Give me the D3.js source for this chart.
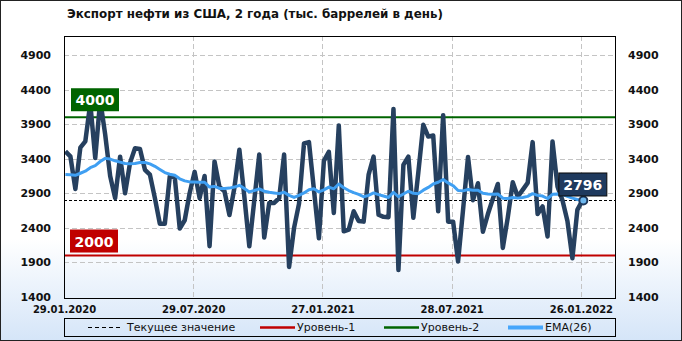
<!DOCTYPE html>
<html>
<head>
<meta charset="utf-8">
<script src="https://cdn.jsdelivr.net/npm/d3@7"></script>
<style>
  body { margin: 0; background: #fff; }
  svg { display: block; font-family: "DejaVu Sans", Verdana, sans-serif; }
</style>
</head>
<body>
<div id="chart"></div>
<script>
// weekly values, first week ending 31.01.2020
const firstWeek = "31.01.2020";
const exportValues = [
  3506, 3434, 2962, 3560, 3650, 4200, 3410, 4250, 3750, 3150,
  2830, 3430, 2900, 3340, 3550, 3540, 3240, 3170, 2830, 2460,
  2460, 3145, 3130, 2390, 2510, 2905, 3210, 2830, 3150, 2135,
  3360, 2990, 2930, 2585, 2980, 3530, 2850, 2135, 2800, 3460,
  2260, 2760, 2760, 2830, 3460, 1835, 2400, 2750, 3620, 3640,
  2950, 2250, 3370, 3500, 2615, 3880, 2350, 2375, 2640, 2500,
  2490, 3170, 3430, 2590, 2560, 2555, 4120, 1790, 3310, 3430,
  2545, 3200, 3890, 3720, 3735, 2640, 4030, 2490, 2490, 1915,
  2660, 3425, 2800, 3045, 2345, 2600, 2820, 3035, 2110, 2550,
  3060, 2850, 2950, 3050, 3640, 2600, 2710, 2275, 3650, 3000,
  2800, 2500, 1960, 2660, 2796
];
const emaValues = [
  3170, 3168, 3160, 3190, 3220, 3270, 3300, 3360, 3405, 3395,
  3370, 3350, 3330, 3328, 3330, 3345, 3345, 3325, 3290, 3245,
  3200, 3175, 3160, 3110, 3080, 3065, 3065, 3060, 3060, 2990,
  3000, 2970, 2970, 2975, 2990, 3015, 2970, 2920, 2940, 2965,
  2930, 2915, 2905, 2895, 2915, 2870, 2840, 2870, 2905, 2950,
  2965, 2920, 2950, 2990, 2965, 3035, 2980, 2940, 2910, 2885,
  2850, 2870, 2905, 2880, 2860, 2840, 2915, 2850, 2890, 2930,
  2900, 2895, 2945, 2985, 3035, 3060, 3100, 3050, 3010, 2940,
  2935, 2955, 2945, 2945, 2900, 2890, 2885, 2890, 2830, 2825,
  2840, 2830, 2840, 2855, 2895, 2870, 2860, 2825, 2885, 2890,
  2880, 2855, 2830, 2810, 2796
];
const tickLabels = ["29.01.2020", "29.07.2020", "27.01.2021", "28.07.2021", "26.01.2022"];
const yTicks = [1400, 1900, 2400, 2900, 3400, 3900, 4400, 4900];
const levelValues = [2000, 4000];
const levelColors = ["#c00000", "#006400"];
const currentValue = 2796;
const legendLabels = ["Текущее значение", "Уровень-1", "Уровень-2", "EMA(26)"];
const titleText = "Экспорт нефти из США, 2 года (тыс. баррелей в день)";

window.addEventListener('load', makeChart);

function makeChart() {
  const width = 682, height = 341;
  const left = 64, right = 615, top = 36, bottom = 297;

  const parse = d3.timeParse("%d.%m.%Y");
  const t0 = parse(firstWeek);
  const dates = exportValues.map((d, i) => d3.timeDay.offset(t0, 7 * i));

  const x = d3.scaleTime()
      .domain([parse("29.01.2020"), parse("15.03.2022")])
      .range([left, right]);
  const y = d3.scaleLinear()
      .domain([1400, 5175])
      .range([bottom, top]);

  const svg = d3.select("#chart").append("svg")
      .attr("width", width)
      .attr("height", height);

  const defs = svg.append("defs");
  const grad = defs.append("linearGradient")
      .attr("id", "bg").attr("x1", 0).attr("y1", 0).attr("x2", 0).attr("y2", 1);
  grad.append("stop").attr("offset", "0").attr("stop-color", "#ffffff");
  grad.append("stop").attr("offset", "0.7").attr("stop-color", "#ffffff");
  grad.append("stop").attr("offset", "1").attr("stop-color", "#d5e5f8");

  defs.append("clipPath").attr("id", "plot")
    .append("rect")
      .attr("x", left).attr("y", top)
      .attr("width", right - left).attr("height", bottom - top + 1);

  svg.append("rect")
      .attr("x", 0.5).attr("y", 0.5)
      .attr("width", width - 1).attr("height", height - 1)
      .attr("fill", "url(#bg)")
      .attr("stroke", "#222");

  // title
  const title = svg.append("text")
      .attr("x", 67).attr("y", 18)
      .attr("font-weight", "bold")
      .attr("font-size", 12)
      .attr("fill", "#111")
      .text(titleText);
  const tw = title.node().getComputedTextLength();
  title.attr("font-size", (12 * 376 / tw).toFixed(2));

  // grid
  const grid = svg.append("g")
      .attr("stroke", "#c4c4c4")
      .attr("stroke-dasharray", "5,3")
      .attr("shape-rendering", "crispEdges");
  grid.selectAll(".h")
    .data(yTicks.slice(1))
    .join("line")
      .attr("x1", left).attr("x2", right)
      .attr("y1", d => Math.round(y(d)) + 0.5)
      .attr("y2", d => Math.round(y(d)) + 0.5);
  grid.selectAll(".v")
    .data(tickLabels.slice(1).map(parse))
    .join("line")
      .attr("y1", top).attr("y2", bottom)
      .attr("x1", d => Math.round(x(d)) + 0.5)
      .attr("x2", d => Math.round(x(d)) + 0.5);

  // axes
  const yLeft = svg.append("g")
      .attr("transform", `translate(${left},0)`)
      .call(d3.axisLeft(y).tickValues(yTicks).tickFormat(d3.format("d")).tickSize(0).tickPadding(13));
  const yRight = svg.append("g")
      .attr("transform", `translate(${right},0)`)
      .call(d3.axisRight(y).tickValues(yTicks).tickFormat(d3.format("d")).tickSize(0).tickPadding(13));
  const xAxis = svg.append("g")
      .attr("transform", `translate(0,${bottom})`)
      .call(d3.axisBottom(x)
        .tickValues(tickLabels.map(parse))
        .tickFormat(d3.timeFormat("%d.%m.%Y"))
        .tickSize(0).tickPadding(9));
  [yLeft, yRight].forEach(g => {
    g.select(".domain").remove();
    g.selectAll("text")
      .attr("font-family", "DejaVu Sans, sans-serif")
      .attr("font-size", 11).attr("font-weight", "bold").attr("fill", "#111");
  });
  xAxis.select(".domain").remove();
  xAxis.selectAll("text")
    .attr("font-family", "DejaVu Sans, sans-serif")
    .attr("font-size", 10).attr("font-weight", "bold").attr("fill", "#111");

  const plot = svg.append("g").attr("clip-path", "url(#plot)");

  // levels
  plot.selectAll(".level")
    .data(levelValues)
    .join("line")
      .attr("x1", left).attr("x2", right)
      .attr("y1", d => y(d)).attr("y2", d => y(d))
      .attr("stroke", (d, i) => levelColors[i])
      .attr("stroke-width", 2);

  plot.append("line")
      .attr("x1", left).attr("x2", right)
      .attr("y1", Math.round(y(currentValue)) + 0.5)
      .attr("y2", Math.round(y(currentValue)) + 0.5)
      .attr("stroke", "#000")
      .attr("stroke-dasharray", "3,2");

  const line = d3.line()
      .x((d, i) => x(dates[i]))
      .y(d => y(d));

  plot.append("path")
      .datum(exportValues)
      .attr("fill", "none")
      .attr("stroke", "#26405f")
      .attr("stroke-width", 4.5)
      .attr("stroke-linejoin", "round")
      .attr("d", line);

  plot.append("path")
      .datum(emaValues)
      .attr("fill", "none")
      .attr("stroke", "#3f9ff2")
      .attr("stroke-width", 3)
      .attr("stroke-linejoin", "round")
      .attr("d", line);

  const n = exportValues.length - 1;
  svg.append("circle")
      .attr("cx", x(dates[n]) + 1).attr("cy", y(exportValues[n]))
      .attr("r", 4)
      .attr("fill", "#6db7ee")
      .attr("stroke", "#1f3a5e")
      .attr("stroke-width", 2);

  // plot frame
  svg.append("rect")
      .attr("x", left + 0.5).attr("y", top + 0.5)
      .attr("width", right - left).attr("height", bottom - top + 1)
      .attr("fill", "none")
      .attr("stroke", "#000")
      .attr("shape-rendering", "crispEdges");

  // value boxes
  function valueBox(bx, by, fill, txt, stroke) {
    const g = svg.append("g").attr("transform", `translate(${bx},${by})`);
    g.append("rect")
        .attr("width", 48).attr("height", 23)
        .attr("fill", fill)
        .attr("stroke", stroke || "none");
    g.append("text")
        .attr("x", 24).attr("y", 12).attr("dy", "0.36em")
        .attr("text-anchor", "middle")
        .attr("font-weight", "bold").attr("font-size", 14)
        .attr("fill", "#fff")
        .text(txt);
  }
  valueBox(left + 7, y(4000) - 29, "#006400", "4000");
  valueBox(left + 6, y(2000) - 26, "#c00000", "2000");
  valueBox(x(dates[n]) - 23.5, y(currentValue) - 27.5, "#1f3a5e", String(currentValue), "#0a0a0a");

  // legend
  const lg = svg.append("g");
  lg.append("rect")
      .attr("x", left + 0.5).attr("y", 318.5)
      .attr("width", right - left).attr("height", 18)
      .attr("fill", "none").attr("stroke", "#000");
  const ly = 327.5;
  const items = [
    {x1: 88, x2: 121, tx: 127, color: "#000", w: 1, dash: "4,3"},
    {x1: 260, x2: 295, tx: 297, color: "#c00000", w: 2.5},
    {x1: 384, x2: 419, tx: 421, color: "#006400", w: 2.5},
    {x1: 508, x2: 543, tx: 545, color: "#46a6fb", w: 4}
  ];
  lg.selectAll(".it")
    .data(items)
    .join("line")
      .attr("x1", d => d.x1).attr("x2", d => d.x2)
      .attr("y1", ly).attr("y2", ly)
      .attr("stroke", d => d.color)
      .attr("stroke-width", d => d.w)
      .attr("stroke-dasharray", d => d.dash || null);
  lg.selectAll("text")
    .data(items)
    .join("text")
      .attr("x", d => d.tx).attr("y", ly).attr("dy", "0.36em")
      .attr("font-size", 11).attr("fill", "#111")
      .text((d, i) => legendLabels[i]);
}
</script>
</body>
</html>
